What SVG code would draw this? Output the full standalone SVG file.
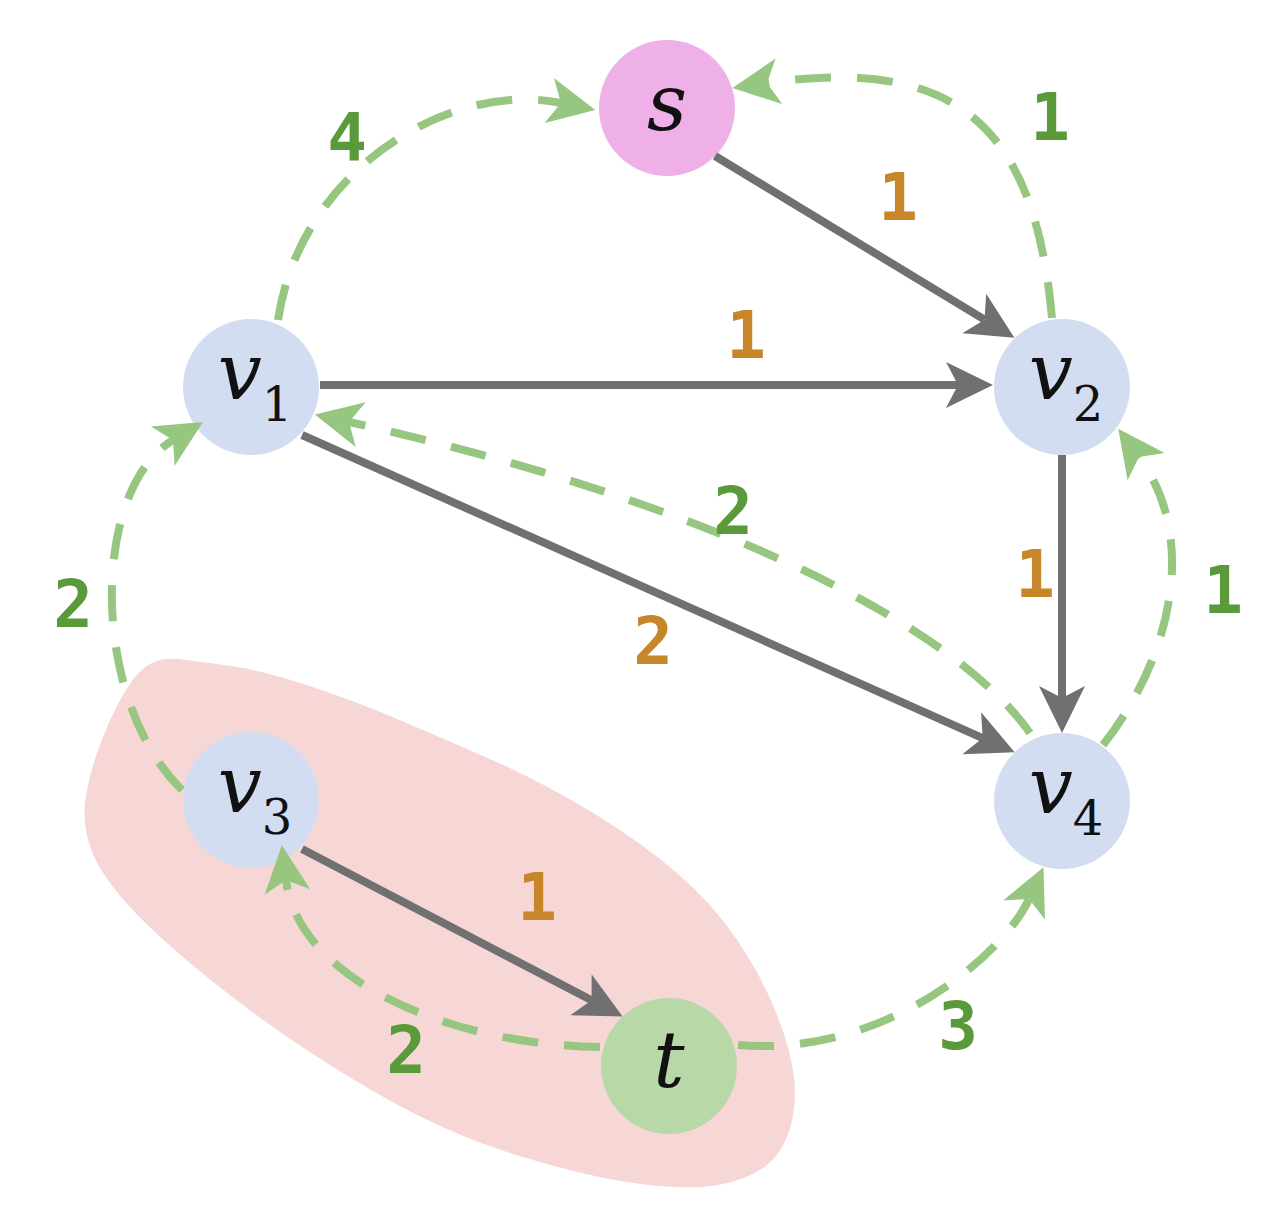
<svg xmlns="http://www.w3.org/2000/svg" width="1268" height="1210" viewBox="0 0 1268 1210">
<style>
.node-v{fill:#d3ddf1}
.nlab{font-family:"DejaVu Serif","Liberation Serif",serif;font-style:italic;font-size:78px;fill:#111;text-anchor:middle}
.sub{font-style:normal;font-size:48px}
.solid{fill:none;stroke:#707070;stroke-width:8;marker-end:url(#ag)}
.dash{fill:none;stroke:#96c680;stroke-width:8;stroke-dasharray:36 26;marker-end:url(#agr)}
.wl{font-family:"DejaVu Sans Mono","Liberation Mono",monospace;font-weight:bold;font-size:66px;text-anchor:middle}
.wo{fill:#c8862a}
.wg{fill:#5b9a3a}
</style>
<defs>
<marker id="ag" markerUnits="userSpaceOnUse" markerWidth="52" markerHeight="52" viewBox="0 -26 52 52" refX="12" refY="0" orient="auto">
<path d="M0,-23 L47,0 L0,23 L12,0 Z" fill="#707070"/>
</marker>
<marker id="agr" markerUnits="userSpaceOnUse" markerWidth="52" markerHeight="52" viewBox="0 -26 52 52" refX="12" refY="0" orient="auto">
<path d="M0,-23 L47,0 L0,23 L12,0 Z" fill="#96c680"/>
</marker>
</defs>
<rect width="1268" height="1210" fill="#ffffff"/>
<path id="region" fill="#f7d7d6" d="M177.5,659 Q205,662 234,666.5 Q263,671 306.5,685 Q350,699 398.5,719.5 Q447,740 495.5,761.5 Q544,783 592.5,812.5 Q641,842 677,873 Q713,904 737.5,940.5 Q762,977 776.5,1013.5 Q791,1050 794,1078 Q797,1106 789.5,1130 Q782,1154 764.5,1167 Q747,1180 718,1185 Q689,1190 640.5,1184 Q592,1178 519.5,1156 Q447,1134 374.5,1092 Q302,1050 241.5,1004 Q181,958 144.5,922 Q108,886 95,858.5 Q82,831 85,803.5 Q88,776 102,739.5 Q116,703 133,679.5 Q150,656 177.5,659 Z"/>
<g id="node-s"><circle cx="667" cy="108" r="68" fill="#efb0e8"/><text class="nlab" x="667" y="130">s</text></g>
<g id="node-v1"><circle class="node-v" cx="251" cy="387" r="68"/><text class="nlab" x="255" y="399">v<tspan class="sub" dy="22">1</tspan></text></g>
<g id="node-v2"><circle class="node-v" cx="1062" cy="387" r="68"/><text class="nlab" x="1066" y="399">v<tspan class="sub" dy="22">2</tspan></text></g>
<g id="node-v3"><circle class="node-v" cx="251" cy="800" r="68"/><text class="nlab" x="255" y="812">v<tspan class="sub" dy="22">3</tspan></text></g>
<g id="node-v4"><circle class="node-v" cx="1062" cy="801" r="68"/><text class="nlab" x="1066" y="813">v<tspan class="sub" dy="22">4</tspan></text></g>
<g id="node-t"><circle cx="669" cy="1066" r="68" fill="#b9d8a8"/><text class="nlab" x="669" y="1087">t</text></g>
<g id="connectors">
<path class="solid" d="M715,156 L984.5,319.7"/>
<path class="solid" d="M320,385 L958,385"/>
<path class="solid" d="M302,435 L982.7,738.1"/>
<path class="solid" d="M1062,455 L1062,698"/>
<path class="solid" d="M302,849 L591.6,1000.3"/>
<path class="dash" d="M278,320 C300,170 450,80 561,103"/>
<path class="dash" d="M1052,318 C1035,130 960,55 767,83"/>
<path class="dash" d="M1030,733 C950,620 700,500 349,422"/>
<path class="dash" d="M1103,745 C1170,660 1200,540 1139,457"/>
<path class="dash" d="M182,790 C90,700 90,490 173,440"/>
<path class="dash" d="M600,1047 C450,1045 298,980 286,880"/>
<path class="dash" d="M738,1045 C885,1058 1004,954 1029,899"/>
</g>
<g id="labels">
<text class="wl wo" x="898" y="220">1</text>
<text class="wl wo" x="746" y="358">1</text>
<text class="wl wo" x="653" y="664">2</text>
<text class="wl wo" x="1035" y="597">1</text>
<text class="wl wo" x="537" y="920">1</text>
<text class="wl wg" x="347" y="160">4</text>
<text class="wl wg" x="1050" y="140">1</text>
<text class="wl wg" x="733" y="534">2</text>
<text class="wl wg" x="1223" y="613">1</text>
<text class="wl wg" x="73" y="627">2</text>
<text class="wl wg" x="406" y="1073">2</text>
<text class="wl wg" x="958" y="1049">3</text>
</g>
</svg>
